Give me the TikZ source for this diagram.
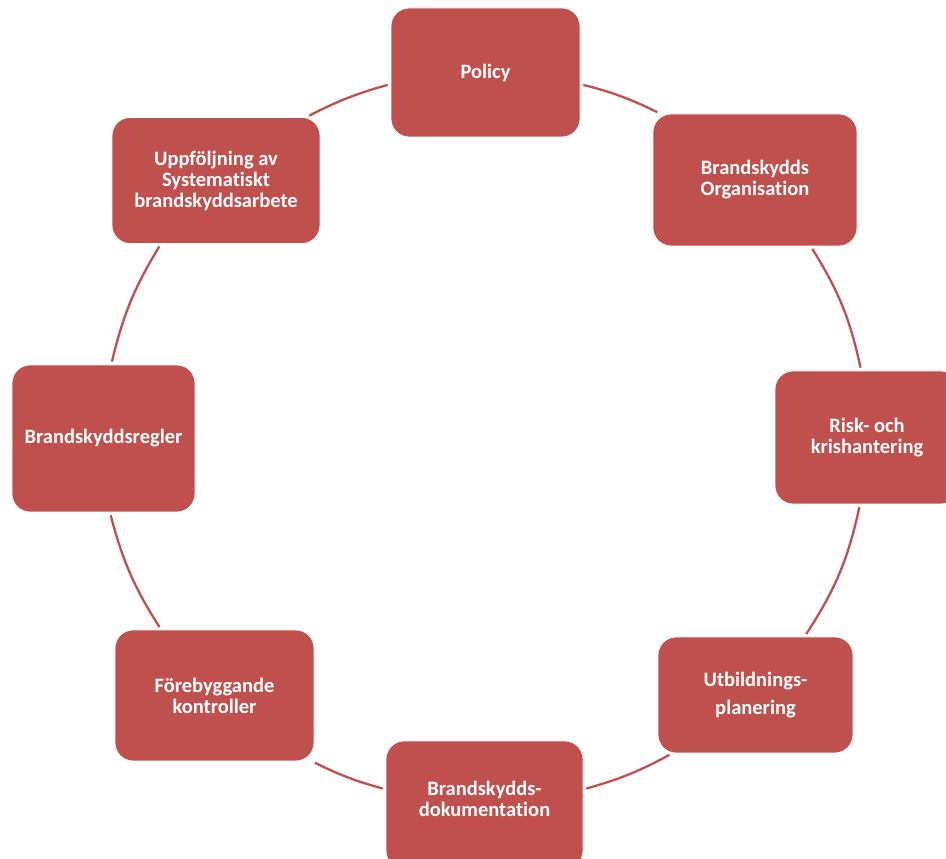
\documentclass[tikz,border=0pt]{standalone}
\usepackage{fontspec}
\setmainfont{Carlito}[Ligatures={NoCommon,NoContextual,NoRequired}, RawFeature=-calt]
\usepackage{tikz}
\definecolor{brick}{RGB}{192,80,77}
\tikzstyle{block} = [rectangle, fill=brick, draw=white, line width=0.8pt, text=white,
    align=center, rounded corners=18pt, inner sep=0pt,
    font=\fontsize{20.5}{21}\selectfont\bfseries]
\tikzstyle{line} = [draw=brick, line width=2.3pt, shorten >=3pt, shorten <=3pt]

\begin{document}
\begin{tikzpicture}[x=1pt, y=1pt]
        \useasboundingbox (0,0) rectangle (946,859);
        \clip (0,0) rectangle (946,859);
        % Place nodes
        \node [block, minimum width=189pt, minimum height=129pt] (policy) at (485.5,786.5) {Policy};
        \node [block, minimum width=204pt, minimum height=132pt] (organisation) at (755,679) {Brandskydds\\Organisation};
        \node [block, minimum width=184pt, minimum height=133pt] (risk) at (867,421.5) {Risk- och\\krishantering};
        \node [block, minimum width=195pt, minimum height=116pt] (utbildning) at (755.5,164) {Utbildnings-\\[7pt]planering};
        \node [block, minimum width=197pt, minimum height=128pt] (dokumentation) at (484.5,54) {Brandskydds-\\dokumentation\\[-8pt]};
        \node [block, minimum width=199pt, minimum height=131pt] (kontroller) at (214.5,163.5) {Förebyggande\\kontroller};
        \node [block, minimum width=183pt, minimum height=147pt] (regler) at (103.5,420.5) {Brandskyddsregler};
        \node [block, minimum width=208pt, minimum height=126pt] (uppfoljning) at (216,678.5) {Uppföljning av\\Systematiskt\\brandskyddsarbete};
        % Draw edges
        \path [line] (policy.-7.4) to[bend left=6] (organisation.145);
        \path [line] (organisation.-50.4) to[bend left=10] (risk.95.7);
        \path [line] (risk.-96.5) to[bend left=10.5] (utbildning.50.2);
        \path [line] (utbildning.215.5) to[bend left=6.5] (dokumentation.9.2);
        \path [line] (dokumentation.171) to[bend left=5.5] (kontroller.-34.3);
        \path [line] (kontroller.129.5) to[bend left=9] (regler.-85.3);
        \path [line] (regler.84.5) to[bend left=9] (uppfoljning.229.3);
        \path [line] (uppfoljning.35.7) to[bend left=6] (policy.187.2);
    \end{tikzpicture}
\end{document}
